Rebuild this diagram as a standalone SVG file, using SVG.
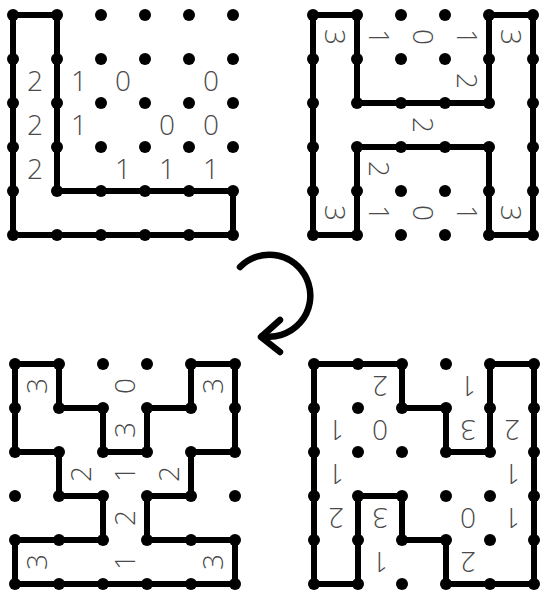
<svg xmlns="http://www.w3.org/2000/svg" xmlns:xlink="http://www.w3.org/1999/xlink" width="540" height="591" viewBox="0 0 540 591">
<style>
.loop{fill:none;stroke:#000;stroke-width:6;stroke-linejoin:round;stroke-linecap:round}
.num{font-family:"Open Sans","Liberation Sans",sans-serif;font-weight:300;font-size:28px;fill:#4a4a4a;text-anchor:middle}
.arrow{fill:none;stroke:#000;stroke-width:6.5;stroke-linecap:round;stroke-linejoin:round}
</style>
<defs>
<g id="dots" fill="#000">
<circle cx="0" cy="0" r="6"/><circle cx="44" cy="0" r="6"/><circle cx="88" cy="0" r="6"/><circle cx="132" cy="0" r="6"/><circle cx="176" cy="0" r="6"/><circle cx="220" cy="0" r="6"/>
<circle cx="0" cy="44" r="6"/><circle cx="44" cy="44" r="6"/><circle cx="88" cy="44" r="6"/><circle cx="132" cy="44" r="6"/><circle cx="176" cy="44" r="6"/><circle cx="220" cy="44" r="6"/>
<circle cx="0" cy="88" r="6"/><circle cx="44" cy="88" r="6"/><circle cx="88" cy="88" r="6"/><circle cx="132" cy="88" r="6"/><circle cx="176" cy="88" r="6"/><circle cx="220" cy="88" r="6"/>
<circle cx="0" cy="132" r="6"/><circle cx="44" cy="132" r="6"/><circle cx="88" cy="132" r="6"/><circle cx="132" cy="132" r="6"/><circle cx="176" cy="132" r="6"/><circle cx="220" cy="132" r="6"/>
<circle cx="0" cy="176" r="6"/><circle cx="44" cy="176" r="6"/><circle cx="88" cy="176" r="6"/><circle cx="132" cy="176" r="6"/><circle cx="176" cy="176" r="6"/><circle cx="220" cy="176" r="6"/>
<circle cx="0" cy="220" r="6"/><circle cx="44" cy="220" r="6"/><circle cx="88" cy="220" r="6"/><circle cx="132" cy="220" r="6"/><circle cx="176" cy="220" r="6"/><circle cx="220" cy="220" r="6"/>
</g>
</defs>

<g id="puzzle-top-left" transform="translate(13,15)">
<path class="loop" d="M0 0H44V176H220V220H0Z"/>
<use xlink:href="#dots" href="#dots"/>
<g class="num">
<text x="22" y="76">2</text><text x="66" y="76">1</text><text x="110" y="76">0</text><text x="198" y="76">0</text>
<text x="22" y="120">2</text><text x="66" y="120">1</text><text x="154" y="120">0</text><text x="198" y="120">0</text>
<text x="22" y="164">2</text><text x="110" y="164">1</text><text x="154" y="164">1</text><text x="198" y="164">1</text>
</g>
</g>

<g id="puzzle-top-right" transform="translate(313,15)">
<path class="loop" d="M0 0H44V88H176V0H220V220H176V132H44V220H0Z"/>
<use xlink:href="#dots" href="#dots"/>
<g class="num">
<text transform="translate(22,22) rotate(90)" y="10">3</text>
<text transform="translate(66,22) rotate(90)" y="10">1</text>
<text transform="translate(110,22) rotate(90)" y="10">0</text>
<text transform="translate(154,22) rotate(90)" y="10">1</text>
<text transform="translate(198,22) rotate(90)" y="10">3</text>
<text transform="translate(154,66) rotate(90)" y="10">2</text>
<text transform="translate(110,110) rotate(90)" y="10">2</text>
<text transform="translate(66,154) rotate(90)" y="10">2</text>
<text transform="translate(22,198) rotate(90)" y="10">3</text>
<text transform="translate(66,198) rotate(90)" y="10">1</text>
<text transform="translate(110,198) rotate(90)" y="10">0</text>
<text transform="translate(154,198) rotate(90)" y="10">1</text>
<text transform="translate(198,198) rotate(90)" y="10">3</text>
</g>
</g>

<g id="puzzle-bottom-left" transform="translate(15,364)">
<path class="loop" d="M0 0H44V44H88V88H132V44H176V0H220V88H176V132H132V176H220V220H0V176H88V132H44V88H0Z"/>
<use xlink:href="#dots" href="#dots"/>
<g class="num">
<text transform="translate(22,22) rotate(-90)" y="10">3</text>
<text transform="translate(110,22) rotate(-90)" y="10">0</text>
<text transform="translate(198,22) rotate(-90)" y="10">3</text>
<text transform="translate(110,66) rotate(-90)" y="10">3</text>
<text transform="translate(66,110) rotate(-90)" y="10">2</text>
<text transform="translate(110,110) rotate(-90)" y="10">1</text>
<text transform="translate(154,110) rotate(-90)" y="10">2</text>
<text transform="translate(110,154) rotate(-90)" y="10">2</text>
<text transform="translate(22,198) rotate(-90)" y="10">3</text>
<text transform="translate(110,198) rotate(-90)" y="10">1</text>
<text transform="translate(198,198) rotate(-90)" y="10">3</text>
</g>
</g>

<g id="puzzle-bottom-right" transform="translate(314,364)">
<path class="loop" d="M0 0H88V44H132V88H176V0H220V220H132V176H88V132H44V220H0Z"/>
<use xlink:href="#dots" href="#dots"/>
<g class="num">
<text transform="translate(66,22) rotate(180)" y="10">2</text>
<text transform="translate(154,22) rotate(180)" y="10">1</text>
<text transform="translate(22,66) rotate(180)" y="10">1</text>
<text transform="translate(66,66) rotate(180)" y="10">0</text>
<text transform="translate(154,66) rotate(180)" y="10">3</text>
<text transform="translate(198,66) rotate(180)" y="10">2</text>
<text transform="translate(22,110) rotate(180)" y="10">1</text>
<text transform="translate(198,110) rotate(180)" y="10">1</text>
<text transform="translate(22,154) rotate(180)" y="10">2</text>
<text transform="translate(66,154) rotate(180)" y="10">3</text>
<text transform="translate(154,154) rotate(180)" y="10">0</text>
<text transform="translate(198,154) rotate(180)" y="10">1</text>
<text transform="translate(66,198) rotate(180)" y="10">1</text>
<text transform="translate(154,198) rotate(180)" y="10">2</text>
</g>
</g>

<g id="connectors">
<g id="rotate-arrow" class="arrow">
<path d="M240 267A41 41 0 1 1 262 336"/>
<path d="M280 320L261 337L280 352"/>
</g>
</g>
</svg>
